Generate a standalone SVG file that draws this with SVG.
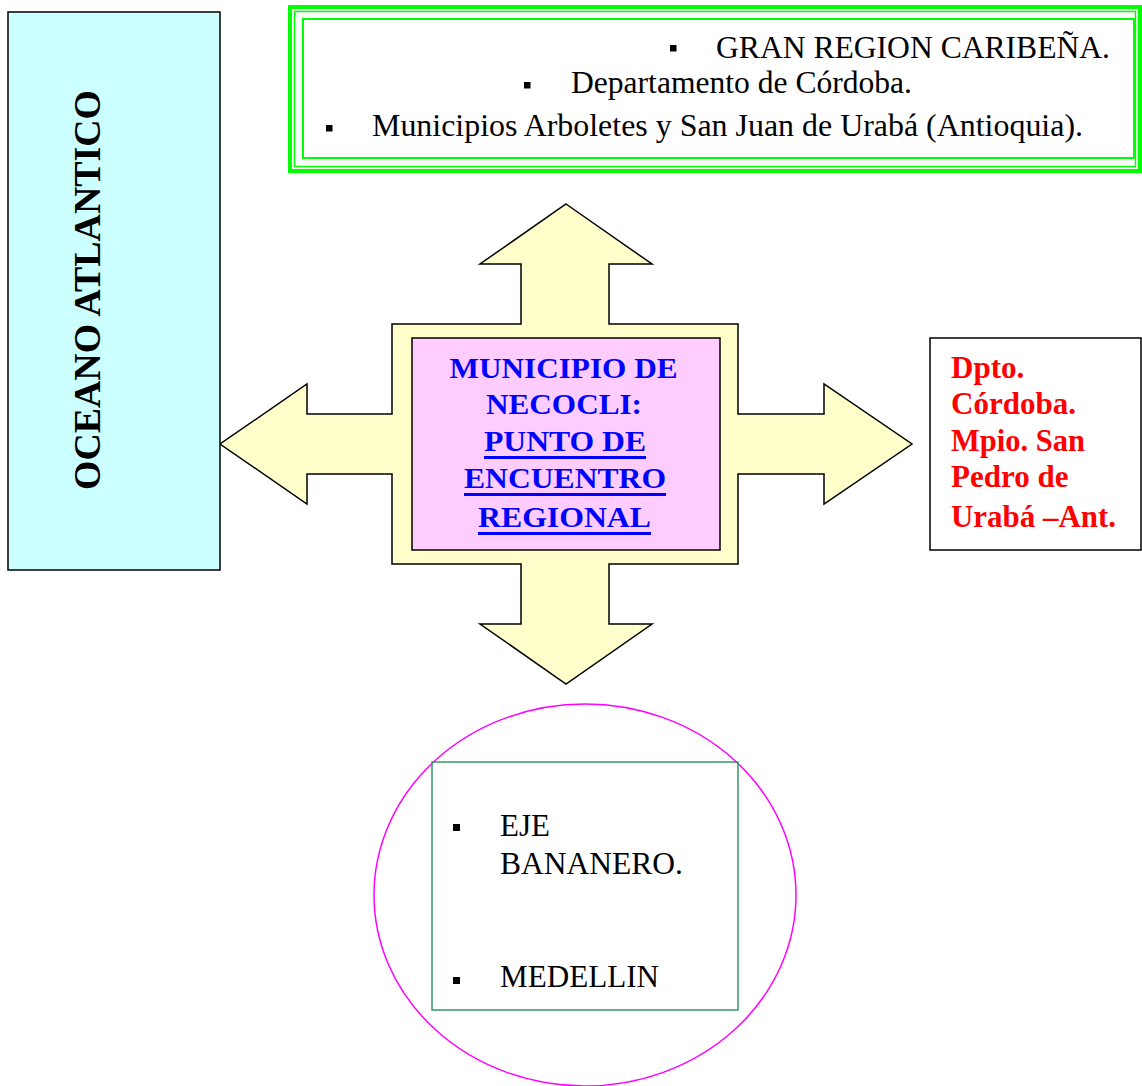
<svg xmlns="http://www.w3.org/2000/svg" width="1142" height="1086" viewBox="0 0 1142 1086">
<style>
.serif{font-family:"Liberation Serif","Times New Roman",serif;}
.top{font-size:32px;fill:#000;}
.blue{font-size:30px;font-weight:bold;fill:#0000ff;}
.red{font-size:31px;font-weight:bold;fill:#ff0000;}
.blk{font-size:31px;fill:#000;}
.bul{fill:#000;}
.gr{fill:none;stroke:#00ff00;}
</style>
<rect width="1142" height="1086" fill="#fff"/>
<g id="connectors">
<path d="M566,204 L652,264 L609,264 L609,324 L738,324 L738,414 L824,414 L824,384 L912,444 L824,504 L824,474 L738,474 L738,564 L609,564 L609,624 L652,624 L566,684 L480,624 L521,624 L521,564 L392,564 L392,474 L307,474 L307,504 L220,444 L307,384 L307,414 L392,414 L392,324 L521,324 L521,264 L480,264 Z" fill="#ffffcc" stroke="#000" stroke-width="1.5" stroke-linejoin="miter"/>
</g>
<g id="region-top">
<rect class="gr" x="290" y="7" width="850" height="164" stroke-width="4"/>
<rect class="gr" x="294.5" y="11.5" width="841" height="155" stroke-width="1.5"/>
<rect class="gr" x="303" y="19" width="831" height="139" stroke-width="2"/>
<rect class="bul" x="670" y="45" width="6.5" height="6.5"/>
<text class="serif top" x="716" y="58" textLength="394" lengthAdjust="spacingAndGlyphs">GRAN REGION CARIBEÑA.</text>
<rect class="bul" x="524" y="82" width="6.5" height="6.5"/>
<text class="serif top" x="571" y="93" textLength="341" lengthAdjust="spacingAndGlyphs">Departamento de Córdoba.</text>
<rect class="bul" x="326" y="125" width="6.5" height="6.5"/>
<text class="serif top" x="372" y="136" textLength="711" lengthAdjust="spacingAndGlyphs">Municipios Arboletes y San Juan de Urabá (Antioquia).</text>
</g>
<g id="oceano">
<rect x="8" y="12" width="212" height="558" fill="#ccffff" stroke="#000" stroke-width="1.5"/>
<text class="serif" font-size="37" font-weight="bold" fill="#000" text-anchor="middle" transform="translate(100,290) rotate(-90)" textLength="400" lengthAdjust="spacingAndGlyphs">OCEANO ATLANTICO</text>
</g>
<g id="necocli">
<rect x="412" y="338" width="308" height="212" fill="#ffccff" stroke="#000" stroke-width="1.5"/>
<text class="serif blue" x="563.5" y="378" text-anchor="middle" textLength="228" lengthAdjust="spacingAndGlyphs">MUNICIPIO DE</text>
<text class="serif blue" x="564" y="414" text-anchor="middle" textLength="156" lengthAdjust="spacingAndGlyphs">NECOCLI:</text>
<text class="serif blue" x="565" y="451" text-anchor="middle" textLength="162" lengthAdjust="spacingAndGlyphs">PUNTO DE</text>
<rect x="484" y="456" width="162" height="3" fill="#0000ff"/>
<text class="serif blue" x="565" y="488" text-anchor="middle" textLength="202" lengthAdjust="spacingAndGlyphs">ENCUENTRO</text>
<rect x="464" y="493" width="202" height="3" fill="#0000ff"/>
<text class="serif blue" x="564.5" y="527" text-anchor="middle" textLength="173" lengthAdjust="spacingAndGlyphs">REGIONAL</text>
<rect x="478" y="532" width="173" height="3" fill="#0000ff"/>
</g>
<g id="cordoba">
<rect x="930" y="338" width="211" height="212" fill="#fff" stroke="#000" stroke-width="1.5"/>
<text class="serif red" x="951" y="378">Dpto.</text>
<text class="serif red" x="951" y="414">Córdoba.</text>
<text class="serif red" x="951" y="451" textLength="134" lengthAdjust="spacingAndGlyphs">Mpio. San</text>
<text class="serif red" x="951" y="487">Pedro de</text>
<text class="serif red" x="951" y="527" textLength="165" lengthAdjust="spacingAndGlyphs">Urabá –Ant.</text>
</g>
<g id="eje">
<ellipse cx="585" cy="895" rx="211" ry="191" fill="none" stroke="#ff00ff" stroke-width="1.5"/>
<rect x="432" y="762" width="306" height="248" fill="none" stroke="#339966" stroke-width="1.5"/>
<rect class="bul" x="453" y="824" width="7" height="7"/>
<text class="serif blk" x="500" y="836">EJE</text>
<text class="serif blk" x="500" y="874" textLength="183" lengthAdjust="spacingAndGlyphs">BANANERO.</text>
<rect class="bul" x="453" y="977" width="7" height="7"/>
<text class="serif blk" x="500" y="987" textLength="159" lengthAdjust="spacingAndGlyphs">MEDELLIN</text>
</g>
</svg>
